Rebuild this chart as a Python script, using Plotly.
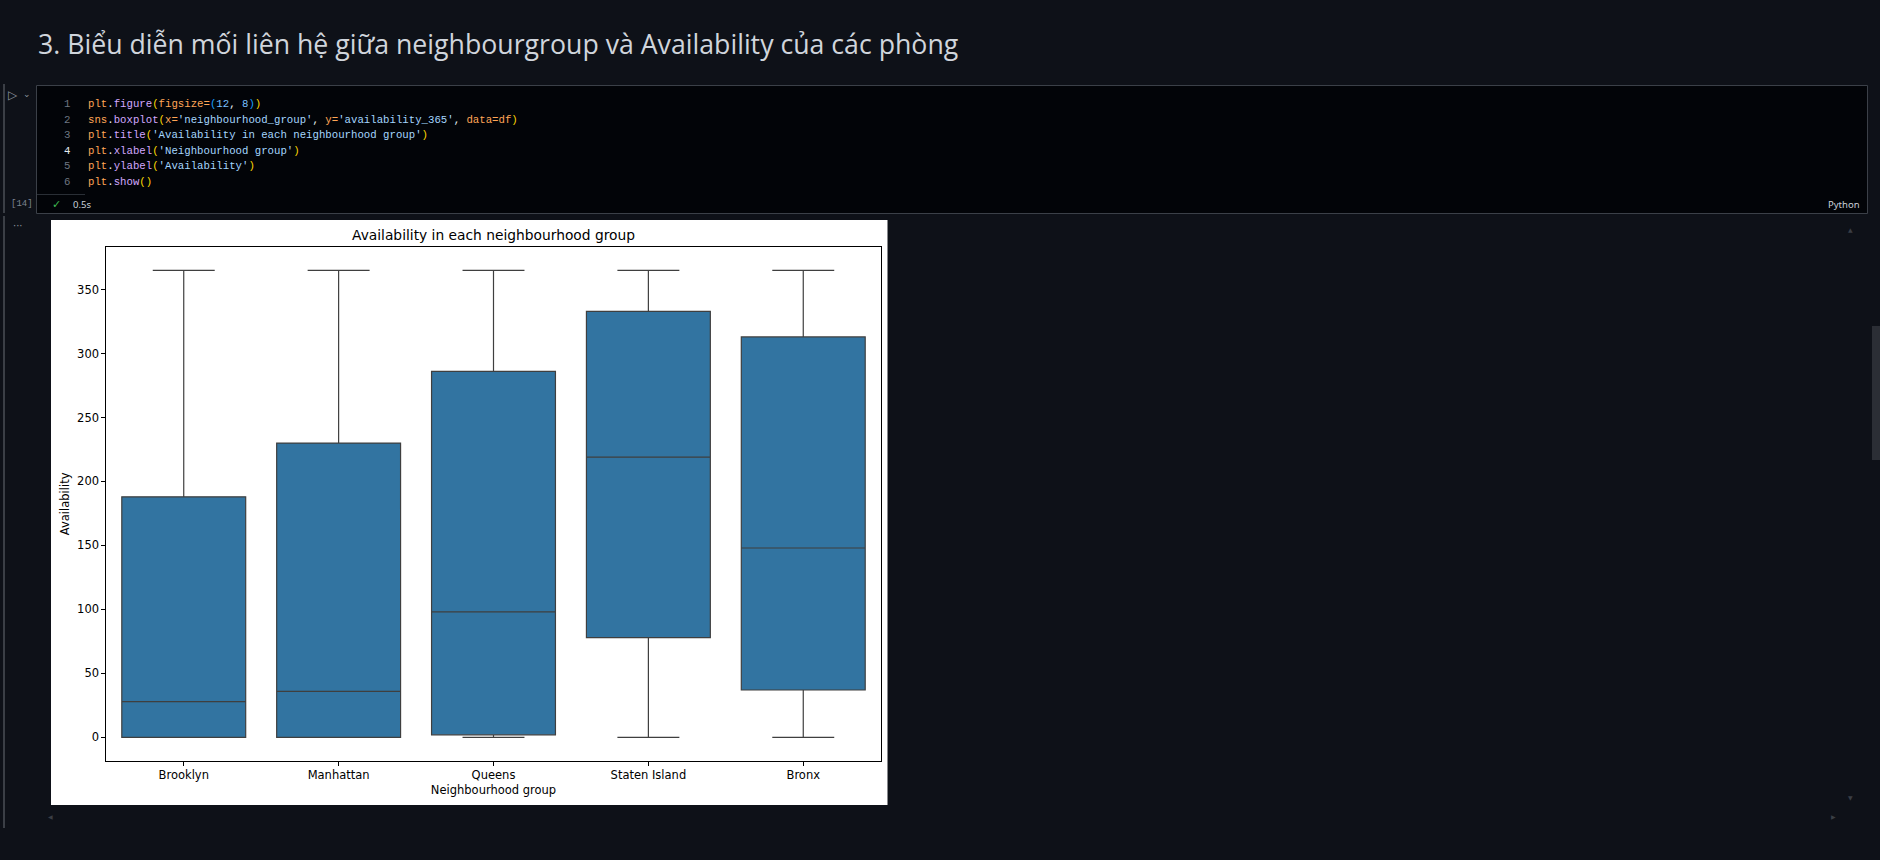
import plotly.graph_objects as go

# ---------------- data ----------------
groups = ["Brooklyn", "Manhattan", "Queens", "Staten Island", "Bronx"]
lower_whisker = [0, 0, 0, 0, 0]
q1_vals = [0, 0, 2, 78, 37]
median_vals = [28, 36, 98, 219, 148]
q3_vals = [188, 230, 286, 333, 313]
upper_whisker = [365, 365, 365, 365, 365]
y_ticks = [0, 50, 100, 150, 200, 250, 300, 350]

W, H = 1880, 860


def px(x):
    return x / W


def py(y):
    return 1 - y / H


fig = go.Figure()
fig.add_trace(go.Box(
    x=groups, q1=q1_vals, median=median_vals, q3=q3_vals,
    lowerfence=lower_whisker, upperfence=upper_whisker,
    fillcolor="#3274a1", line=dict(color="#3f3f3f", width=1.2),
    width=0.8, whiskerwidth=0.5, boxpoints=False, hoverinfo="skip",
    showlegend=False,
))

CHART_FONT = "DejaVu Sans"
fig.update_layout(
    width=W, height=H, autosize=False,
    margin=dict(l=0, r=0, t=0, b=0),
    paper_bgcolor="#0e1118", plot_bgcolor="white",
    xaxis=dict(
        domain=[px(106.3), px(880.7)], type="category", range=[-0.5, 4.5],
        showgrid=False, zeroline=False, showline=True, mirror=True,
        linecolor="#000", linewidth=0.9, ticks="outside", ticklen=4,
        tickwidth=0.9, tickcolor="#000", automargin=False,
        tickfont=dict(family=CHART_FONT, size=11.5, color="#000"),
        title=dict(text="Neighbourhood group", standoff=4,
                   font=dict(family=CHART_FONT, size=11.5, color="#000")),
    ),
    yaxis=dict(
        domain=[py(760.7), py(247)], range=[-18.25, 383.25],
        tickvals=y_ticks, ticktext=[str(v) for v in y_ticks],
        showgrid=False, zeroline=False, showline=True, mirror=True,
        linecolor="#000", linewidth=0.9, ticks="outside", ticklen=4,
        tickwidth=0.9, tickcolor="#000", automargin=False,
        tickfont=dict(family=CHART_FONT, size=11.5, color="#000"),
        title=dict(text="Availability", standoff=5,
                   font=dict(family=CHART_FONT, size=11.5, color="#000")),
    ),
)

shapes = []
# white output image background
shapes.append(dict(type="rect", xref="paper", yref="paper",
                   x0=px(51), x1=px(887.5), y0=py(805), y1=py(220),
                   fillcolor="white", line=dict(width=0), layer="below"))
# code cell
shapes.append(dict(type="rect", xref="paper", yref="paper",
                   x0=px(36.5), x1=px(1867.5), y0=py(213.5), y1=py(85.5),
                   fillcolor="#020408", line=dict(color="#3b4048", width=1), layer="below"))
# separator under editor
shapes.append(dict(type="line", xref="paper", yref="paper",
                   x0=px(37), x1=px(85), y0=py(194.5), y1=py(194.5),
                   line=dict(color="#2a2f36", width=1), layer="below"))
# left gutter bar
shapes.append(dict(type="line", xref="paper", yref="paper",
                   x0=px(4), x1=px(4), y0=py(84), y1=py(213),
                   line=dict(color="#3b3f46", width=2), layer="below"))
shapes.append(dict(type="line", xref="paper", yref="paper",
                   x0=px(4), x1=px(4), y0=py(216), y1=py(828),
                   line=dict(color="#3b3f46", width=2), layer="below"))
# right scrollbar thumb
shapes.append(dict(type="rect", xref="paper", yref="paper",
                   x0=px(1872), x1=px(1880), y0=py(460), y1=py(326),
                   fillcolor="#2b2e35", line=dict(width=0), layer="below"))
fig.update_layout(shapes=shapes)

ann = []


def text(x, y, s, size, color, family="Noto Sans", xanchor="left", textangle=0):
    ann.append(dict(x=px(x), y=py(y), xref="paper", yref="paper", text=s,
                    showarrow=False, xanchor=xanchor, yanchor="middle",
                    textangle=textangle,
                    font=dict(family=family, size=size, color=color)))


# heading
text(36, 43, "3. Biểu diễn mối liên hệ giữa neighbourgroup và Availability của các phòng",
     26.7, "#d0d5dc", family="Open Sans")

# code lines
OR = "#ffa657"
PU = "#d2a8ff"
LB = "#a5d6ff"
NB = "#79c0ff"
WH = "#e6edf3"
GD = "#ffd700"
BL = "#179fff"


def seg(s, c):
    return f'<span style="color:{c}">{s}</span>'


code_lines = [
    [("plt", OR), (".", WH), ("figure", PU), ("(", GD), ("figsize=", OR), ("(", BL),
     ("12", NB), (", ", WH), ("8", NB), (")", BL), (")", GD)],
    [("sns", OR), (".", WH), ("boxplot", PU), ("(", GD), ("x=", OR),
     ("'neighbourhood_group'", LB), (", ", WH), ("y=", OR), ("'availability_365'", LB),
     (", ", WH), ("data=", OR), ("df", OR), (")", GD)],
    [("plt", OR), (".", WH), ("title", PU), ("(", GD),
     ("'Availability in each neighbourhood group'", LB), (")", GD)],
    [("plt", OR), (".", WH), ("xlabel", PU), ("(", GD), ("'Neighbourhood group'", LB), (")", GD)],
    [("plt", OR), (".", WH), ("ylabel", PU), ("(", GD), ("'Availability'", LB), (")", GD)],
    [("plt", OR), (".", WH), ("show", PU), ("(", GD), (")", GD)],
]
MONO = "Liberation Mono"
for i, parts in enumerate(code_lines):
    yy = 104 + i * 15.6
    text(72, yy, str(i + 1), 10.7, "#e6edf3" if i == 3 else "#6e7681", family=MONO,
         xanchor="right")
    text(85.5, yy, "".join(seg(s, c) for s, c in parts), 10.7, WH, family=MONO)

# cell status
text(22, 204, "[14]", 9, "#7d8590", family=MONO, xanchor="center")
text(56.5, 204, "✓", 11, "#3fb950", family="DejaVu Sans", xanchor="center")
text(71, 204, "0.5s", 9.5, "#c9d1d9", family="Noto Sans")
text(1862, 204, "Python", 9.5, "#c9d1d9", family="Noto Sans", xanchor="right")
text(12.5, 95, "▷", 12, "#8b949e", family="DejaVu Sans", xanchor="center")
text(27, 94, "⌄", 9, "#8b949e", family="DejaVu Sans", xanchor="center")
text(18, 226, "···", 10, "#8b949e", family="DejaVu Sans", xanchor="center")
# scroll arrows
text(1850, 229, "▲", 6, "#3a3e45", family="DejaVu Sans", xanchor="center")
text(1850, 797, "▼", 6, "#3a3e45", family="DejaVu Sans", xanchor="center")
text(50, 816, "◀", 6, "#3a3e45", family="DejaVu Sans", xanchor="center")
text(1833, 816, "▶", 6, "#3a3e45", family="DejaVu Sans", xanchor="center")

# chart title
text(493.5, 235, "Availability in each neighbourhood group", 13.8, "#000", family=CHART_FONT,
     xanchor="center")

fig.update_layout(annotations=ann)
fig.write_html("out.html")
